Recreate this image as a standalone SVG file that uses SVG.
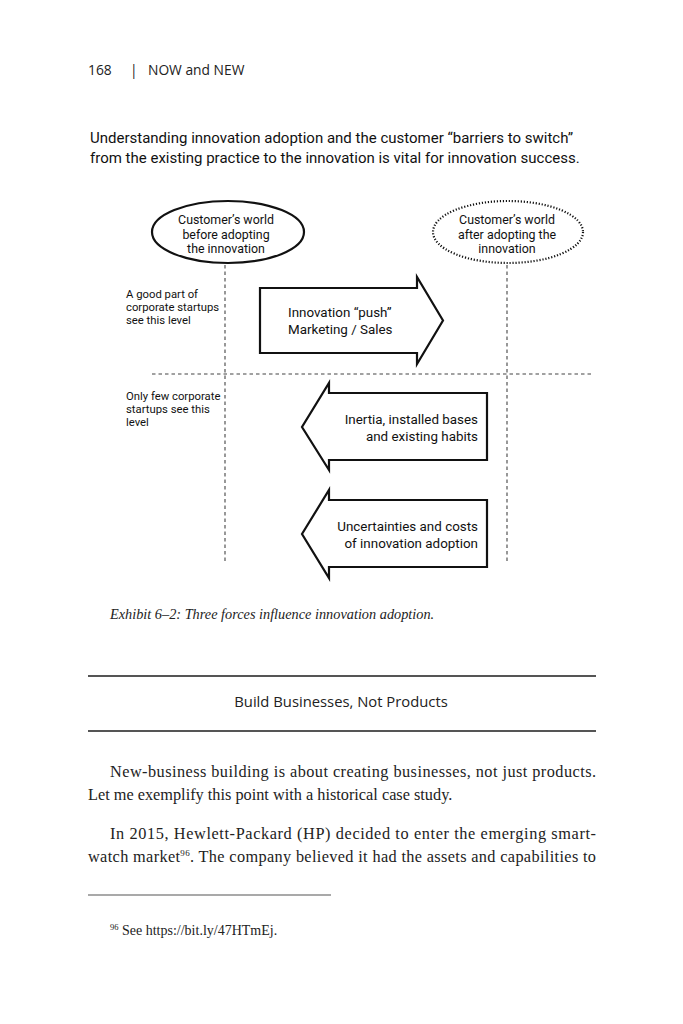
<svg xmlns="http://www.w3.org/2000/svg" width="683" height="1024" viewBox="0 0 683 1024">
<style>
.hdr{font-family:"Open Sans","Noto Sans",sans-serif;font-size:13.8px;fill:#222}
.intro{font-family:Roboto,"Liberation Sans",sans-serif;font-size:15px;fill:#111}
.lbl{font-family:Roboto,"Liberation Sans",sans-serif;font-size:12.4px;fill:#111}
.side{font-family:Roboto,"Liberation Sans",sans-serif;font-size:11.3px;fill:#111}
.arr{font-family:Roboto,"Liberation Sans",sans-serif;font-size:13.4px;fill:#111}
.shape{fill:#fff;stroke:#111;stroke-width:2.2;stroke-linejoin:miter}
.guide{stroke:#444;stroke-width:1.1;stroke-dasharray:3.5,3;fill:none}
.cap{font-family:"Liberation Serif",serif;font-style:italic;font-size:14.3px;fill:#222}
.sec{font-family:"Open Sans","Noto Sans",sans-serif;font-size:14.8px;fill:#222}
.body{font-family:"Liberation Serif",serif;font-size:16.3px;fill:#222}
.fn{font-family:"Liberation Serif",serif;font-size:14px;fill:#222}
.rule{stroke:#555;stroke-width:2}
</style>
<rect width="683" height="1024" fill="#fff"/>
<g id="header">
<text class="hdr" x="88" y="75">168</text>
<text class="hdr" x="130" y="75">|</text>
<text class="hdr" x="148" y="75">NOW and NEW</text>
</g>
<g id="intro">
<text class="intro" x="90" y="143">Understanding innovation adoption and the customer “barriers to switch”</text>
<text class="intro" x="90" y="163">from the existing practice to the innovation is vital for innovation success.</text>
</g>
<g id="connectors">
<line class="guide" x1="225" y1="265" x2="225" y2="561"/>
<line class="guide" x1="507" y1="265" x2="507" y2="561"/>
<line class="guide" x1="152" y1="374" x2="592" y2="374"/>
</g>
<g id="before">
<ellipse cx="228" cy="232" rx="76" ry="31" fill="#fff" stroke="#111" stroke-width="2.2"/>
<text class="lbl" text-anchor="middle" x="226" y="224">Customer’s world</text>
<text class="lbl" text-anchor="middle" x="226" y="239">before adopting</text>
<text class="lbl" text-anchor="middle" x="226" y="253">the innovation</text>
</g>
<g id="after">
<ellipse cx="508" cy="232" rx="75" ry="31" fill="#fff" stroke="#111" stroke-width="2.2" stroke-dasharray="1.2,1.8"/>
<text class="lbl" text-anchor="middle" x="507" y="224">Customer’s world</text>
<text class="lbl" text-anchor="middle" x="507" y="239">after adopting the</text>
<text class="lbl" text-anchor="middle" x="507" y="253">innovation</text>
</g>
<g id="label-good">
<text class="side" x="126" y="298">A good part of</text>
<text class="side" x="126" y="311">corporate startups</text>
<text class="side" x="126" y="324">see this level</text>
</g>
<g id="label-few">
<text class="side" x="126" y="400">Only few corporate</text>
<text class="side" x="126" y="413">startups see this</text>
<text class="side" x="126" y="426">level</text>
</g>
<g id="push">
<polygon class="shape" points="260,288 417,288 417,277 443,320.5 417,364 417,353 260,353"/>
<text class="arr" x="288" y="317">Innovation “push”</text>
<text class="arr" x="288" y="334">Marketing / Sales</text>
</g>
<g id="inertia">
<polygon class="shape" points="487,393 329,393 329,383 302,427 329,470 329,460 487,460"/>
<text class="arr" text-anchor="end" x="478" y="424">Inertia, installed bases</text>
<text class="arr" text-anchor="end" x="478" y="441">and existing habits</text>
</g>
<g id="uncertainties">
<polygon class="shape" points="487,500 329,500 329,490 302,534 329,578 329,567 487,567"/>
<text class="arr" text-anchor="end" x="478" y="531">Uncertainties and costs</text>
<text class="arr" text-anchor="end" x="478" y="548">of innovation adoption</text>
</g>
<g id="caption">
<text class="cap" x="110" y="619">Exhibit 6–2: Three forces influence innovation adoption.</text>
</g>
<g id="section">
<line class="rule" x1="88" y1="676" x2="596" y2="676"/>
<text class="sec" text-anchor="middle" x="341" y="707">Build Businesses, Not Products</text>
<line class="rule" x1="88" y1="731" x2="596" y2="731"/>
</g>
<g id="body">
<text class="body" x="110" y="777" textLength="486" lengthAdjust="spacing">New-business building is about creating businesses, not just products.</text>
<text class="body" x="88" y="800">Let me exemplify this point with a historical case study.</text>
<text class="body" x="110" y="839" textLength="486" lengthAdjust="spacing">In 2015, Hewlett-Packard (HP) decided to enter the emerging smart-</text>
<text class="body" x="88" y="862" textLength="508" lengthAdjust="spacing">watch market<tspan font-size="9" dy="-6">96</tspan><tspan dy="6">. The company believed it had the assets and capabilities to</tspan></text>
</g>
<g id="footnote">
<line x1="88" y1="895" x2="331" y2="895" stroke="#555" stroke-width="1.2"/>
<text class="fn" x="110" y="935"><tspan font-size="8.5" dy="-5">96</tspan><tspan dy="5"> See https://bit.ly/47HTmEj.</tspan></text>
</g>
</svg>
